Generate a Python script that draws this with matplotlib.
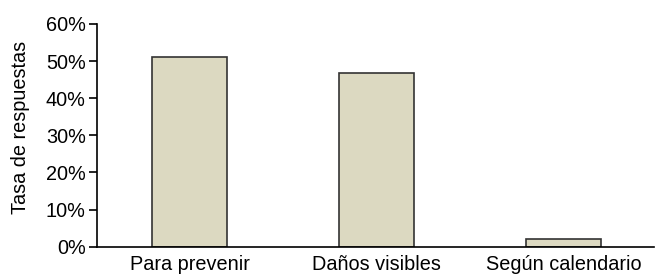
import numpy as np
import matplotlib.pyplot as plt
from matplotlib.ticker import PercentFormatter

plt.rcParams['font.family'] = ['Liberation Sans', 'DejaVu Sans']

categorias = ['Para prevenir', 'Daños visibles', 'Según calendario']
tasas = [51.0, 46.9, 2.1]

fig = plt.figure(figsize=(6.55, 2.78), dpi=100)
ax = fig.add_axes([0.148, 0.1126, 0.8505, 0.8011])
x = np.arange(len(categorias))
ax.bar(x, tasas, width=0.404, color='#dcd9c1', edgecolor='#333333', linewidth=1.2)
ax.set_xlim(-0.495, 2.484)
ax.set_ylim(0, 60)
ax.set_yticks(np.arange(0, 61, 10))
ax.yaxis.set_major_formatter(PercentFormatter(decimals=0))
ax.set_xticks(x)
ax.set_xticklabels(categorias)
ax.tick_params(axis='x', length=0, pad=6, labelsize=14.3)
ax.tick_params(axis='y', length=6, width=1.2, labelsize=14.3, pad=2)
for s in ['top', 'right']:
    ax.spines[s].set_visible(False)
for s in ['left', 'bottom']:
    ax.spines[s].set_linewidth(1.2)
ax.set_ylabel('Tasa de respuestas', fontsize=14.3)
ax.yaxis.set_label_coords(-0.12, 0.535)
fig.savefig('out.png', dpi=100)
